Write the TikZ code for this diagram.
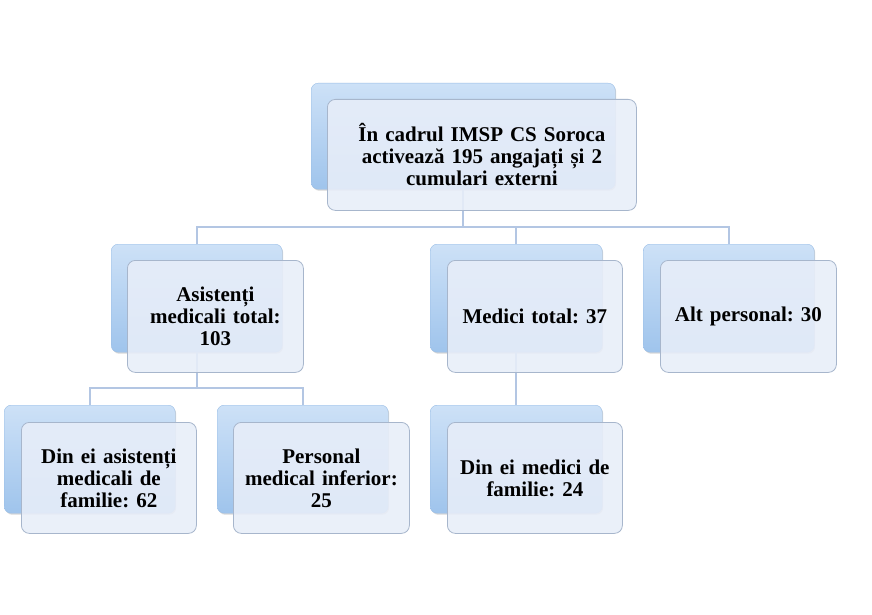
\documentclass[tikz,border=0pt]{standalone}
\usepackage{fontspec}
\setmainfont{Liberation Serif}
\frenchspacing
\usetikzlibrary{shadows}
\definecolor{backtop}{HTML}{CDE1F7}
\definecolor{backbot}{HTML}{9FC4EC}
\definecolor{backline}{HTML}{98BDE6}
\definecolor{frontfill}{HTML}{E8EEF9}
\definecolor{frontline}{HTML}{A7B6CC}
\definecolor{connc}{HTML}{B3C6E3}
\tikzset{
  backbox/.style={draw=backline, line width=0.4pt, top color=backtop, bottom color=backbot,
    rounded corners=7pt, anchor=north west, inner sep=0pt,
    drop shadow={shadow xshift=1pt, shadow yshift=-1.5pt, opacity=0.25, fill=black!60}},
  frontbox/.style={draw=frontline, line width=0.8pt, fill=frontfill, fill opacity=0.88, text opacity=1,
    rounded corners=8pt, anchor=north west, inner sep=2pt, align=center,
    font=\bfseries\fontsize{21}{22}\selectfont},
  conn/.style={draw=connc, line width=2.2pt}
}
\begin{document}
\begin{tikzpicture}[x=1pt,y=-1pt]
\useasboundingbox[fill=white] (0,0) rectangle (872,615);
% back boxes
\node[backbox, minimum width=304pt, minimum height=106pt] (btop) at (311,83) {};
\node[backbox, minimum width=171pt, minimum height=108pt] (bA) at (111,244) {};
\node[backbox, minimum width=172pt, minimum height=108pt] (bM) at (430,244) {};
\node[backbox, minimum width=171pt, minimum height=108pt] (bAlt) at (643,244) {};
\node[backbox, minimum width=171pt, minimum height=108pt] (bDA) at (4,405) {};
\node[backbox, minimum width=171pt, minimum height=108pt] (bP) at (217,405) {};
\node[backbox, minimum width=172pt, minimum height=108pt] (bDM) at (430,405) {};
% connectors
\coordinate (j1) at (463,227);
\coordinate (j2) at (196,388);
\draw[conn] (btop.south) -- (btop.south |- j1);
\draw[conn] (bA.north) -- (bA.north |- j1) -- (bAlt.north |- j1) -- (bAlt.north);
\draw[conn] (bM.north) -- (bM.north |- j1);
\draw[conn] (bA.south) -- (bA.south |- j2);
\draw[conn] (bDA.north) -- (bDA.north |- j2) -- (bP.north |- j2) -- (bP.north);
\draw[conn] (bM.south) -- (bDM.north);
% front boxes
\node[frontbox, minimum width=309pt, minimum height=111pt, text width=300pt] (top) at (327,99)
  {În cadrul IMSP CS Soroca\\activează 195 angajați și 2\\cumulari externi};
\node[frontbox, minimum width=176pt, minimum height=112pt, text width=170pt] (A) at (127,260)
  {Asistenți\\medicali total:\\103};
\node[frontbox, minimum width=175pt, minimum height=112pt, text width=170pt] (M) at (447,260)
  {Medici total: 37};
\node[frontbox, minimum width=176pt, minimum height=112pt, text width=170pt] (Alt) at (660,260)
  {Alt personal: 30};
\node[frontbox, minimum width=175pt, minimum height=111pt, text width=170pt] (DA) at (21,422)
  {Din ei asistenți\\medicali de\\familie: 62};
\node[frontbox, minimum width=176pt, minimum height=111pt, text width=170pt] (P) at (233,422)
  {Personal\\medical inferior:\\25};
\node[frontbox, minimum width=175pt, minimum height=111pt, text width=170pt] (DM) at (447,422)
  {Din ei medici de\\familie: 24};
\end{tikzpicture}
\end{document}
